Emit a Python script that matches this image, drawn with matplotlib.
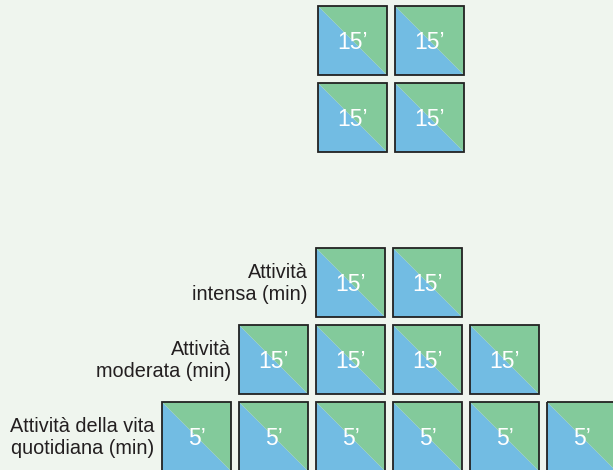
import matplotlib
matplotlib.use("Agg")
import matplotlib.pyplot as plt
from matplotlib.patches import Polygon, Rectangle

plt.rcParams['font.family'] = ['Liberation Sans', 'DejaVu Sans']

# Top block: 2 x 2 tiles of intense activity
top_grid_values = [[15, 15], [15, 15]]

# Bottom pyramid: one row per activity type
row_labels = ["Attività\nintensa (min)",
              "Attività\nmoderata (min)",
              "Attività della vita\nquotidiana (min)"]
row_values = [[15, 15], [15, 15, 15, 15], [5, 5, 5, 5, 5, 5]]
row_first_col = [2, 1, 0]

BLUE = "#72bce3"
GREEN = "#83ca9b"
EDGE = "#222222"
BG = "#eff5ee"

W, H = 613, 470
SIZE = 69
PITCH = 77
X0 = 162
TOP_Y0 = 6
BOTTOM_Y0 = 248

fig = plt.figure(figsize=(W / 100, H / 100), dpi=100)
fig.patch.set_facecolor(BG)
ax = fig.add_axes([0, 0, 1, 1])
ax.set_xlim(0, W)
ax.set_ylim(H, 0)
ax.axis("off")
ax.set_facecolor(BG)


def tile(x, y, value):
    # Blue lower-left half, green upper-right half, dark border, white value
    ax.add_patch(Polygon([(x, y), (x, y + SIZE), (x + SIZE, y + SIZE)],
                         closed=True, facecolor=BLUE, edgecolor="none"))
    ax.add_patch(Polygon([(x, y), (x + SIZE, y), (x + SIZE, y + SIZE)],
                         closed=True, facecolor=GREEN, edgecolor="none"))
    ax.add_patch(Rectangle((x, y), SIZE, SIZE, facecolor="none",
                           edgecolor=EDGE, linewidth=1.3))
    ax.text(x + SIZE / 2, y + SIZE / 2 + 2, f"{value}\u2019", color="white",
            fontsize=16.5, ha="center", va="center")


for r, row in enumerate(top_grid_values):
    for c, v in enumerate(row):
        tile(X0 + (2 + c) * PITCH + 2, TOP_Y0 + r * PITCH, v)

for r, (label, vals, c0) in enumerate(zip(row_labels, row_values, row_first_col)):
    y = BOTTOM_Y0 + r * PITCH
    for c, v in enumerate(vals):
        tile(X0 + (c0 + c) * PITCH, y, v)
    ax.text(X0 + c0 * PITCH - 8, y + SIZE / 2 + 1, label, ha="right", va="center",
            fontsize=14.3, color="#231f20", linespacing=1.15)

fig.savefig("out.png", dpi=100, facecolor=BG)
